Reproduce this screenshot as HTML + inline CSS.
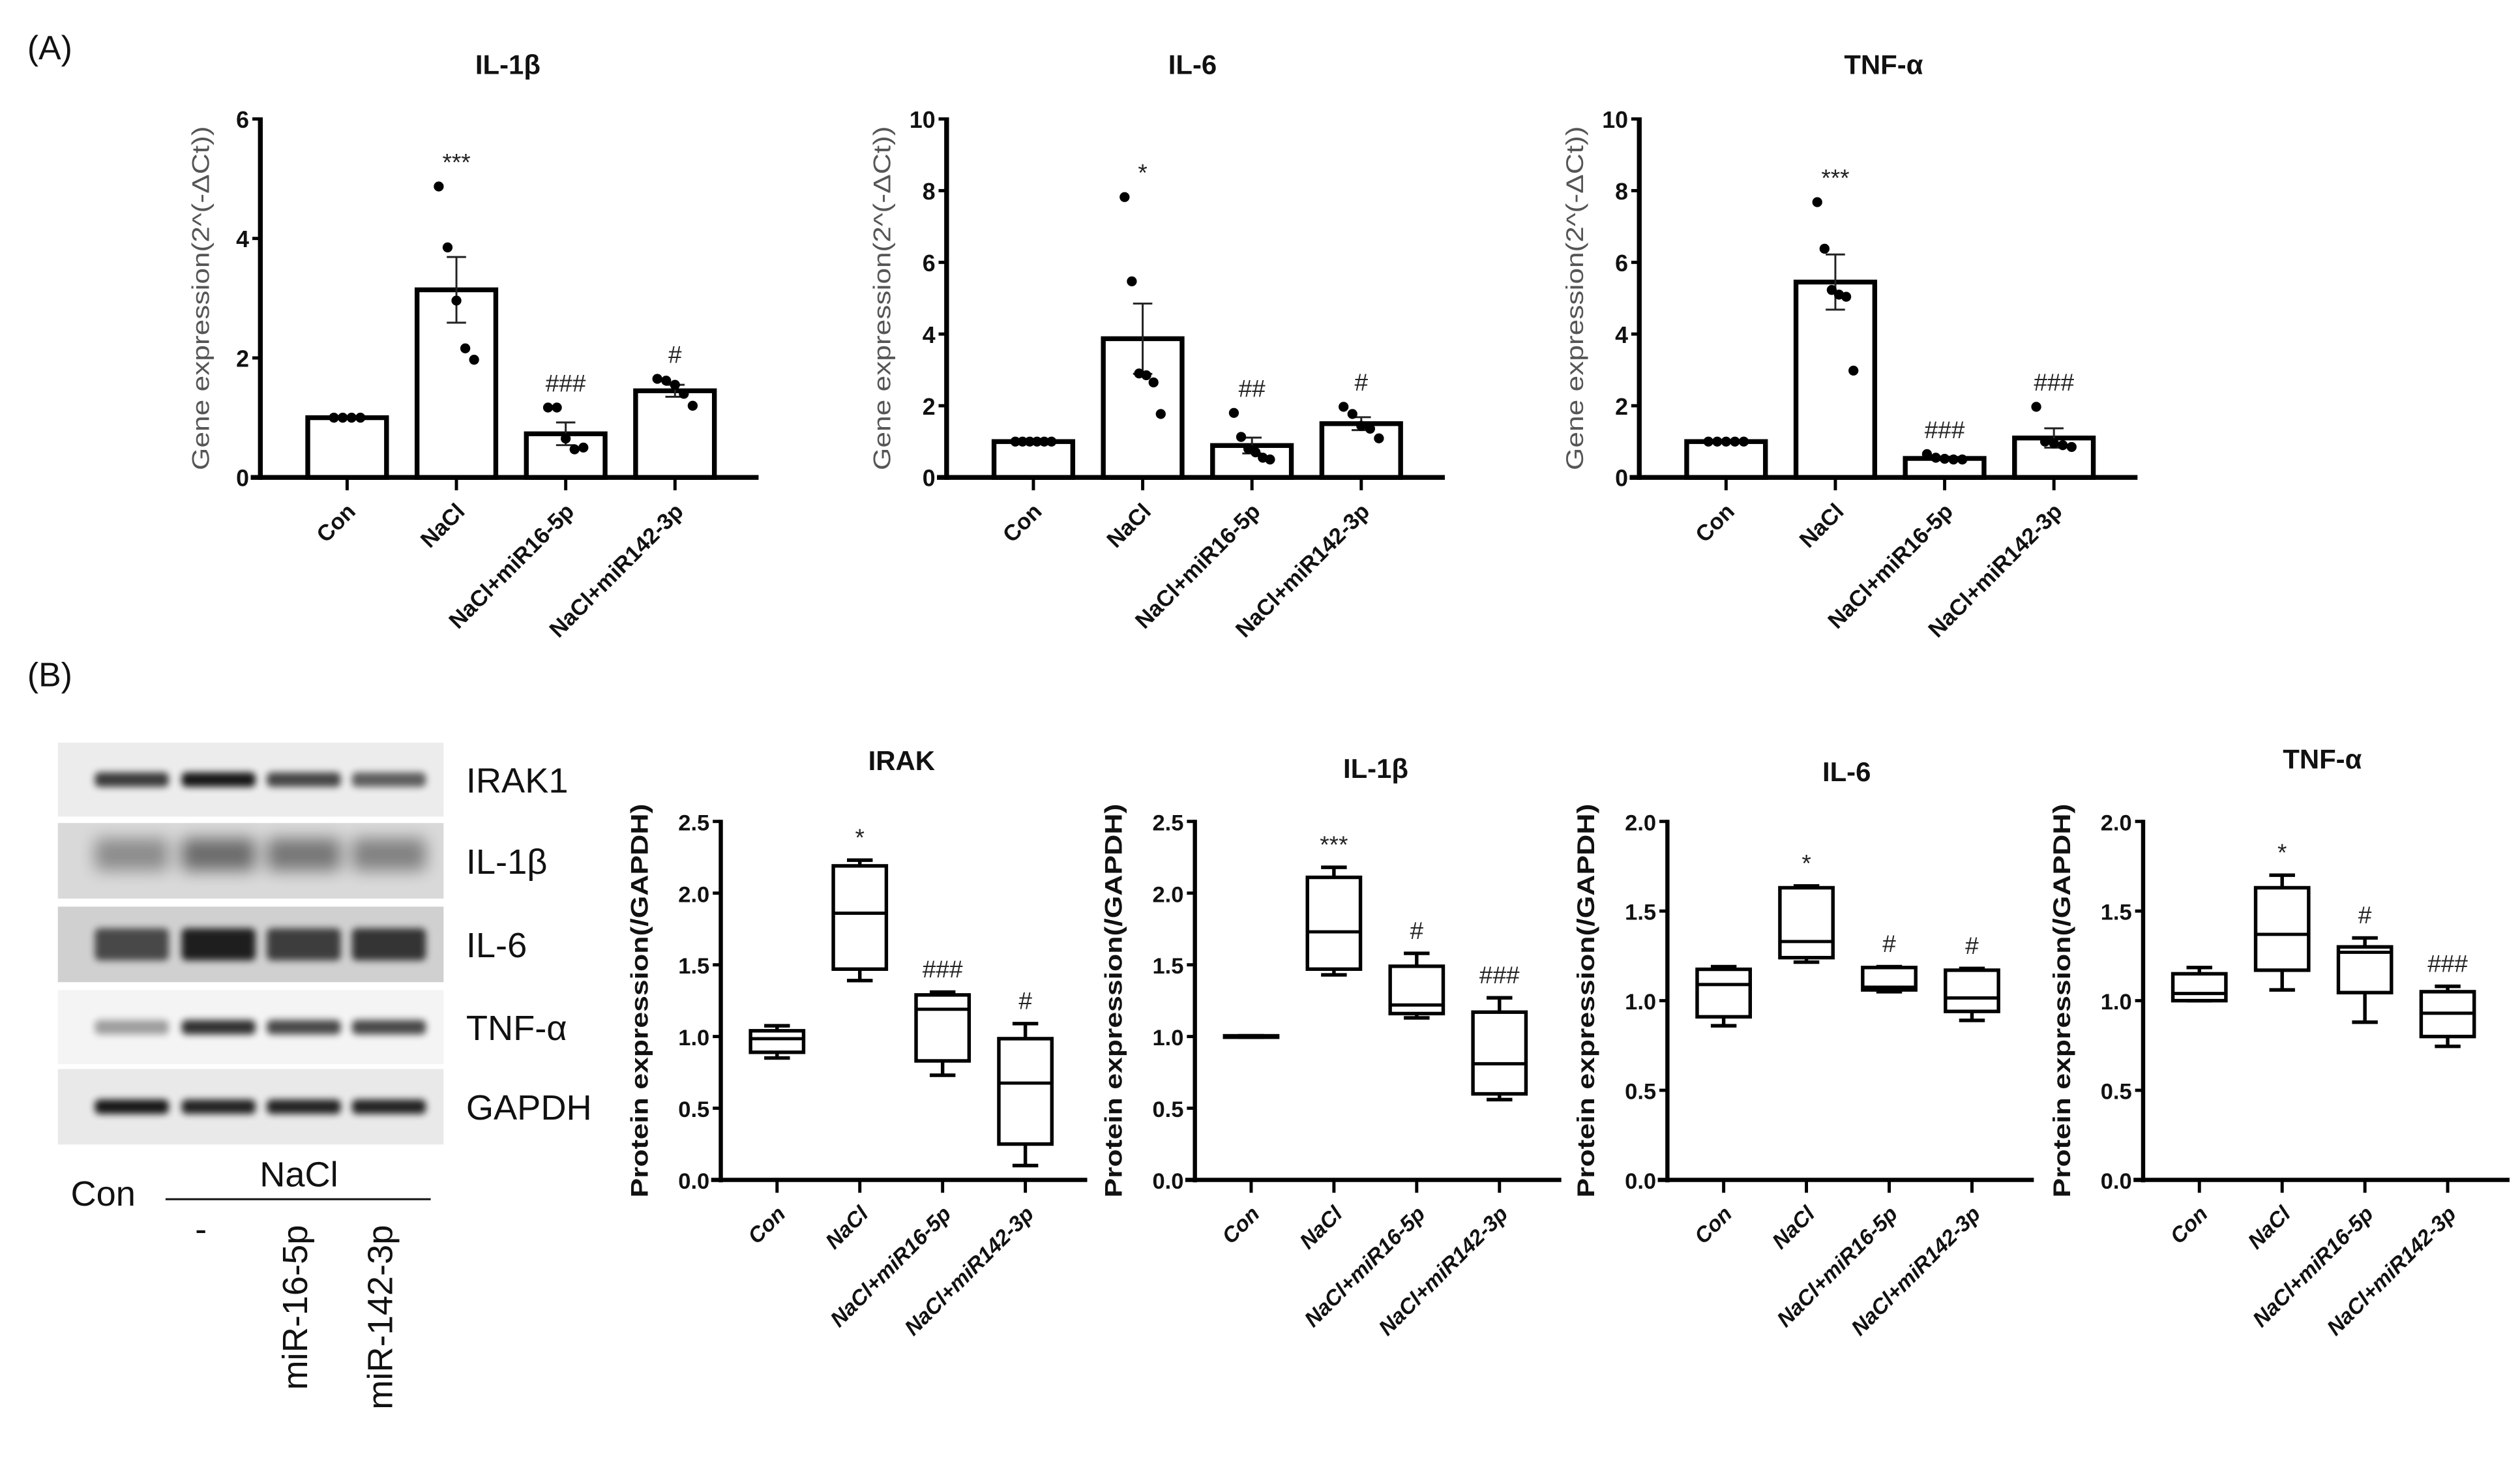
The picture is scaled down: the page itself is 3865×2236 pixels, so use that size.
<!DOCTYPE html>
<html><head><meta charset="utf-8">
<style>
html,body{margin:0;padding:0;background:#fff;}
svg{display:block;}
text{font-family:"Liberation Sans",Arial,sans-serif;}
</style></head>
<body>
<svg id="fig" xmlns="http://www.w3.org/2000/svg" width="3865" height="2236" viewBox="0 0 1568 907" preserveAspectRatio="none">
<defs>
<filter id="blur2" x="-20%" y="-100%" width="140%" height="300%"><feGaussianBlur stdDeviation="2.2"/></filter>
<filter id="blur5" x="-20%" y="-100%" width="140%" height="300%"><feGaussianBlur stdDeviation="5"/></filter>
</defs>
<rect x="0" y="0" width="1568" height="907" fill="#fff"/>
<text x="17" y="37" font-size="21" fill="#111">(A)</text>
<text x="17" y="427" font-size="21" fill="#111">(B)</text>
<g id="blot"></g>
<g id="charts"></g>
</svg>
<script>
// ---------- data ----------
const categories = ["Con", "NaCl", "NaCl+miR16-5p", "NaCl+miR142-3p"];

// Panel A: gene expression bar charts (mean, SEM, points)
const il1bMean = [1.0, 3.14, 0.73, 1.45];
const il1bSem = [0, 0.55, 0.19, 0.1];
const il1bPts = [[1, 1, 1, 1], [4.87, 3.85, 2.96, 2.16, 1.97], [1.17, 1.17, 0.65, 0.47, 0.5], [1.65, 1.62, 1.55, 1.4, 1.2]];
const il1bSig = ["", "***", "###", "#"];

const il6Mean = [1.0, 3.87, 0.89, 1.5];
const il6Sem = [0, 0.98, 0.22, 0.18];
const il6Pts = [[1, 1, 1, 1, 1, 1], [7.82, 5.47, 2.9, 2.85, 2.65, 1.77], [1.8, 1.13, 0.8, 0.7, 0.55, 0.5], [1.97, 1.77, 1.44, 1.36, 1.09]];
const il6Sig = ["", "*", "##", "#"];

const tnfMean = [1.0, 5.45, 0.53, 1.1];
const tnfSem = [0, 0.77, 0.05, 0.27];
const tnfPts = [[1, 1, 1, 1, 1], [7.68, 6.38, 5.23, 5.1, 5.04, 2.98], [0.65, 0.55, 0.52, 0.5, 0.5], [1.97, 1.0, 0.95, 0.9, 0.85]];
const tnfSig = ["", "***", "###", "###"];

const aTicks6 = [0, 2, 4, 6];
const aTicks10 = [0, 2, 4, 6, 8, 10];

// Panel B: protein expression box plots
const irakMin = [0.85, 1.39, 0.73, 0.1];
const irakQ1 = [0.89, 1.47, 0.83, 0.25];
const irakMed = [0.985, 1.86, 1.19, 0.675];
const irakQ3 = [1.04, 2.19, 1.29, 0.985];
const irakMax = [1.075, 2.23, 1.31, 1.09];
const irakSig = ["", "*", "###", "#"];

const bIl1bMin = [0.995, 1.43, 1.13, 0.56];
const bIl1bQ1 = [0.995, 1.47, 1.16, 0.6];
const bIl1bMed = [1.0, 1.73, 1.22, 0.81];
const bIl1bQ3 = [1.005, 2.11, 1.49, 1.17];
const bIl1bMax = [1.005, 2.18, 1.58, 1.27];
const bIl1bSig = ["", "***", "#", "###"];

const bIl6Min = [0.86, 1.215, 1.05, 0.89];
const bIl6Q1 = [0.91, 1.24, 1.06, 0.94];
const bIl6Med = [1.09, 1.33, 1.075, 1.015];
const bIl6Q3 = [1.175, 1.63, 1.185, 1.17];
const bIl6Max = [1.19, 1.64, 1.19, 1.18];
const bIl6Sig = ["", "*", "#", "#"];

const bTnfMin = [1.0, 1.06, 0.88, 0.745];
const bTnfQ1 = [1.0, 1.17, 1.045, 0.8];
const bTnfMed = [1.04, 1.37, 1.27, 0.93];
const bTnfQ3 = [1.15, 1.63, 1.3, 1.05];
const bTnfMax = [1.185, 1.7, 1.35, 1.08];
const bTnfSig = ["", "*", "#", "###"];

const bTicks25 = [0, 0.5, 1.0, 1.5, 2.0, 2.5];
const bTicks20 = [0, 0.5, 1.0, 1.5, 2.0];

// Western blot
const blotLabels = ["IRAK1", "IL-1\u03b2", "IL-6", "TNF-\u03b1", "GAPDH"];
const blotIntensity = [[0.75, 0.9, 0.7, 0.6], [0.35, 0.5, 0.45, 0.4], [0.65, 0.85, 0.7, 0.75], [0.35, 0.8, 0.7, 0.7], [0.9, 0.85, 0.85, 0.85]];

// ---------- helpers ----------
const NS = "http://www.w3.org/2000/svg";
function mk(tag, attrs, parent) {
  const e = document.createElementNS(NS, tag);
  for (const k in attrs) e.setAttribute(k, attrs[k]);
  parent.appendChild(e);
  return e;
}
const chartsG = document.getElementById("charts");

function axisFrame(g, cfg, ticks, fmt) {
  const yS = v => cfg.y0 - (v - cfg.vmin) / (cfg.vmax - cfg.vmin) * (cfg.y0 - cfg.y1);
  const xS = i => cfg.ax + cfg.off + i * cfg.step;
  const ya = mk("line", {x1: cfg.ax, y1: cfg.y1 - 1, x2: cfg.ax, y2: cfg.y0 + 1.5, stroke: "#000", "stroke-width": cfg.axw}, g);
  
  
  const xa = mk("line", {x1: cfg.ax - 6, y1: cfg.y0, x2: cfg.ax + cfg.len, y2: cfg.y0, stroke: "#000", "stroke-width": cfg.axw}, g);
  
  
  ticks.forEach(t => {
    const y = yS(t);
    const tl = mk("line", {x1: cfg.ax - 5, y1: y, x2: cfg.ax, y2: y, stroke: "#000", "stroke-width": 2}, g);
    
    
    const tx = mk("text", {x: cfg.ax - 7, y: y + 5.5, "text-anchor": "end", "font-size": cfg.tfs, "font-weight": "bold", fill: "#111"}, g);
    tx.textContent = fmt(t);
    
    
  });
  categories.forEach((c, i) => {
    const x = xS(i);
    const tk = mk("line", {x1: x, y1: cfg.y0, x2: x, y2: cfg.y0 + 8, stroke: "#000", "stroke-width": 2}, g);
    
    
    const lx = x + 6, ly = cfg.y0 + 22;
    const lb = mk("text", {x: lx, y: ly, "text-anchor": "end", "font-size": cfg.lfs, "font-weight": "bold", "font-style": cfg.italic ? "italic" : "normal", fill: "#111", transform: `rotate(-45 ${lx} ${ly})`}, g);
    lb.textContent = c;
    
    
  });
  const t = mk("text", {x: cfg.tx, y: cfg.ty, "text-anchor": "middle", "font-size": 17, "font-weight": "bold", fill: "#111"}, g);
  t.textContent = cfg.title;
  
  
  const yl = mk("text", {x: 0, y: 0, "text-anchor": "middle", "font-size": cfg.ylfs, "font-weight": cfg.ylbold ? "bold" : "normal", fill: cfg.ylcol, transform: `translate(${cfg.ylx} ${(cfg.y0 + cfg.y1) / 2}) rotate(-90)`, textLength: cfg.yllen, lengthAdjust: "spacingAndGlyphs"}, g);
  yl.textContent = cfg.ylabel;
  
  
  return {xS, yS};
}

function barChart(cfg, mean, sem, pts, sig, ticks) {
  const g = mk("g", {}, chartsG);
  
  
  const {xS, yS} = axisFrame(g, cfg, ticks, v => String(v));
  mean.forEach((m, i) => {
    const x = xS(i), bw = 49;
    const r = mk("rect", {x: x - bw / 2, y: yS(m), width: bw, height: cfg.y0 - yS(m), fill: "#fff", stroke: "#000", "stroke-width": 3}, g);
    
    
    if (sem[i] > 0) {
      const e = mk("path", {d: `M${x} ${yS(m + sem[i])}V${yS(m - sem[i])}M${x - 6} ${yS(m + sem[i])}H${x + 6}M${x - 6} ${yS(m - sem[i])}H${x + 6}`, stroke: "#222", "stroke-width": 1.2, fill: "none"}, g);
      
      
    }
    const n = pts[i].length;
    pts[i].forEach((v, j) => {
      const dx = n > 1 ? (j - (n - 1) / 2) * (n > 5 ? 4.5 : 5.5) : 0;
      const c = mk("circle", {cx: x + dx, cy: yS(v), r: 3.1, fill: "#000"}, g);
      
      
    });
    if (sig[i]) {
      const top = Math.max(m + sem[i], ...pts[i]);
      const s = mk("text", {x: x, y: yS(top) - 10, "text-anchor": "middle", "font-size": 15, fill: "#222"}, g);
      s.textContent = sig[i];
      
      
    }
  });
}

function boxChart(cfg, mn, q1, md, q3, mx, sig, ticks) {
  const g = mk("g", {}, chartsG);
  
  
  const {xS, yS} = axisFrame(g, cfg, ticks, v => v.toFixed(1));
  categories.forEach((c, i) => {
    const x = xS(i), bw = 33, cw = 16;
    const w = mk("path", {d: `M${x} ${yS(mx[i])}V${yS(q3[i])}M${x} ${yS(q1[i])}V${yS(mn[i])}M${x - cw / 2} ${yS(mx[i])}H${x + cw / 2}M${x - cw / 2} ${yS(mn[i])}H${x + cw / 2}`, stroke: "#000", "stroke-width": 2.2, fill: "none"}, g);
    
    
    const b = mk("rect", {x: x - bw / 2, y: yS(q3[i]), width: bw, height: Math.max(yS(q1[i]) - yS(q3[i]), 0.5), fill: "#fff", stroke: "#000", "stroke-width": 2.2}, g);
    
    
    const m = mk("line", {x1: x - bw / 2, y1: yS(md[i]), x2: x + bw / 2, y2: yS(md[i]), stroke: "#000", "stroke-width": 2}, g);
    
    
    if (sig[i]) {
      const s = mk("text", {x: x, y: yS(mx[i]) - 9, "text-anchor": "middle", "font-size": 15, fill: "#222"}, g);
      s.textContent = sig[i];
      
      
    }
  });
}

// ---------- Panel A ----------
const aBase = {y0: 297, y1: 74, vmin: 0, step: 68, off: 54, len: 310, axw: 3, tfs: 14.5, lfs: 14, italic: false, ty: 46,
  ylabel: "Gene expression(2^(-\u0394Ct))", ylfs: 15, ylbold: false, ylcol: "#555", yllen: 214};
barChart(Object.assign({}, aBase, {name: "chart-a-il1b", ax: 162, vmax: 6, title: "IL-1\u03b2", tx: 316, ylx: 130}), il1bMean, il1bSem, il1bPts, il1bSig, aTicks6);
barChart(Object.assign({}, aBase, {name: "chart-a-il6", ax: 589, vmax: 10, title: "IL-6", tx: 742, ylx: 554}), il6Mean, il6Sem, il6Pts, il6Sig, aTicks10);
barChart(Object.assign({}, aBase, {name: "chart-a-tnfa", ax: 1020, vmax: 10, title: "TNF-\u03b1", tx: 1172, ylx: 985}), tnfMean, tnfSem, tnfPts, tnfSig, aTicks10);

// ---------- Panel B ----------
const bBase = {y0: 734, y1: 511, vmin: 0, step: 51.5, off: 35, len: 228, axw: 2.6, tfs: 14, lfs: 13.5, italic: true,
  ylabel: "Protein expression(/GAPDH)", ylfs: 15, ylbold: true, ylcol: "#111", yllen: 245};
boxChart(Object.assign({}, bBase, {name: "chart-b-irak", ax: 448.5, vmax: 2.5, title: "IRAK", tx: 561, ty: 479, ylx: 403}), irakMin, irakQ1, irakMed, irakQ3, irakMax, irakSig, bTicks25);
boxChart(Object.assign({}, bBase, {name: "chart-b-il1b", ax: 743.5, vmax: 2.5, title: "IL-1\u03b2", tx: 856, ty: 484, ylx: 698}), bIl1bMin, bIl1bQ1, bIl1bMed, bIl1bQ3, bIl1bMax, bIl1bSig, bTicks25);
boxChart(Object.assign({}, bBase, {name: "chart-b-il6", ax: 1037.5, vmax: 2.0, title: "IL-6", tx: 1149, ty: 486, ylx: 992}), bIl6Min, bIl6Q1, bIl6Med, bIl6Q3, bIl6Max, bIl6Sig, bTicks20);
boxChart(Object.assign({}, bBase, {name: "chart-b-tnfa", ax: 1333.5, vmax: 2.0, title: "TNF-\u03b1", tx: 1445, ty: 478, ylx: 1288}), bTnfMin, bTnfQ1, bTnfMed, bTnfQ3, bTnfMax, bTnfSig, bTicks20);

// ---------- Western blot ----------
const blot = document.getElementById("blot");
const stripTop = [462, 512, 564, 616, 665];
const stripH = [46, 47, 47, 46, 47];
const stripBg = ["#ececec", "#d9d9d9", "#d0d0d0", "#f4f4f4", "#e9e9e9"];
const laneX = [82, 136, 189, 242];
blotLabels.forEach((lab, r) => {
  const bg = mk("rect", {x: 36, y: stripTop[r], width: 240, height: stripH[r], fill: stripBg[r]}, blot);
  
  
  const cy = stripTop[r] + stripH[r] / 2 + (r === 1 ? -4 : 0);
  laneX.forEach((lx, l) => {
    const a = blotIntensity[r][l];
    const wide = (r === 1 || r === 2) ? 16 : 5;
    const band = mk("rect", {x: lx - 23, y: cy - wide / 2 - 2, width: 46, height: wide + 4, rx: 3, fill: "#000", opacity: a, filter: r === 1 ? "url(#blur5)" : "url(#blur2)"}, blot);
    
    
  });
  const t = mk("text", {x: 290, y: stripTop[r] + stripH[r] / 2 + 8, "font-size": 22, fill: "#111"}, blot);
  t.textContent = lab;
  
  
});
const conL = mk("text", {x: 44, y: 750, "font-size": 22, fill: "#111"}, blot);
conL.textContent = "Con";


const naclL = mk("text", {x: 186, y: 738, "font-size": 22, fill: "#111", "text-anchor": "middle"}, blot);
naclL.textContent = "NaCl";


const ln = mk("line", {x1: 103, y1: 746, x2: 268, y2: 746, stroke: "#111", "stroke-width": 1.2}, blot);


const dash = mk("text", {x: 125, y: 772, "font-size": 22, fill: "#111", "text-anchor": "middle"}, blot);
dash.textContent = "-";


const m16 = mk("text", {x: 0, y: 0, "font-size": 22, fill: "#111", "text-anchor": "end", transform: "translate(191 762) rotate(-90)"}, blot);
m16.textContent = "miR-16-5p";


const m142 = mk("text", {x: 0, y: 0, "font-size": 22, fill: "#111", "text-anchor": "end", transform: "translate(244 762) rotate(-90)"}, blot);
m142.textContent = "miR-142-3p";


</script>
</body></html>
